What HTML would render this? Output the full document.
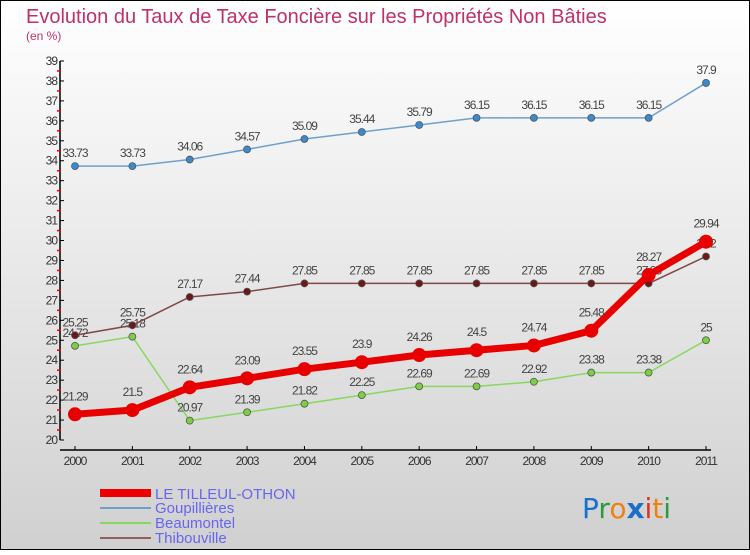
<!DOCTYPE html>
<html><head><meta charset="utf-8"><style>
body{margin:0;width:750px;height:550px;overflow:hidden;font-family:"Liberation Sans",sans-serif}
</style></head><body>
<svg id="c" width="750" height="550" xmlns="http://www.w3.org/2000/svg">
<defs><linearGradient id="bg" x1="0" y1="0" x2="0" y2="1"><stop offset="0" stop-color="#ffffff"/><stop offset="1" stop-color="#d0d0d0"/></linearGradient></defs>
<rect x="0.5" y="0.5" width="749" height="549" fill="url(#bg)" stroke="#000"/>
<text x="26" y="23" font-size="20" fill="#c0306a">Evolution du Taux de Taxe Foncière sur les Propriétés Non Bâties</text>
<text x="26" y="40" font-size="12" fill="#c0306a">(en %)</text>
<g id="axes"></g><g id="series"></g>
<g>
<rect x="100" y="489" width="51" height="8" fill="#e00"/>
<text x="155" y="499" font-size="15" fill="#6666ee">LE TILLEUL-OTHON</text>
<line x1="100" y1="508" x2="151" y2="508" stroke="#6fa0cc" stroke-width="2"/>
<text x="155" y="513" font-size="15" fill="#6666ee">Goupillières</text>
<line x1="100" y1="523" x2="151" y2="523" stroke="#88d860" stroke-width="2"/>
<text x="155" y="528" font-size="15" fill="#6666ee">Beaumontel</text>
<line x1="100" y1="538" x2="151" y2="538" stroke="#906060" stroke-width="2"/>
<text x="155" y="543" font-size="15" fill="#6666ee">Thibouville</text>
</g>
<text x="582" y="518" font-size="28" font-family="'DejaVu Sans',sans-serif"><tspan fill="#1a70c8">P</tspan><tspan fill="#2a9a40">r</tspan><tspan fill="#f08010">o</tspan><tspan fill="#1a70c8" font-weight="bold">x</tspan><tspan fill="#e03020">i</tspan><tspan fill="#f08010">t</tspan><tspan fill="#2a9a40">i</tspan></text>
</svg>
<script>
const years=["2000","2001","2002","2003","2004","2005","2006","2007","2008","2009","2010","2011"];
const tilleul=[21.29,21.5,22.64,23.09,23.55,23.9,24.26,24.5,24.74,25.48,28.27,29.94];
const goup=[33.73,33.73,34.06,34.57,35.09,35.44,35.79,36.15,36.15,36.15,36.15,37.9];
const beau=[24.72,25.18,20.97,21.39,21.82,22.25,22.69,22.69,22.92,23.38,23.38,25];
const thib=[25.25,25.75,27.17,27.44,27.85,27.85,27.85,27.85,27.85,27.85,27.85,29.2];
const yTicks=[20,21,22,23,24,25,26,27,28,29,30,31,32,33,34,35,36,37,38,39];
const NS="http://www.w3.org/2000/svg";
const yMin=20,yMax=39,yTop=61,yBot=440,x0=75,x1=706;
const X=i=>x0+i*(x1-x0)/(years.length-1);
const Y=v=>yBot-(v-yMin)*(yBot-yTop)/(yMax-yMin);
function mk(t,a,p){const e=document.createElementNS(NS,t);for(const k in a)e.setAttribute(k,a[k]);p.appendChild(e);return e;}
const ax=document.getElementById('axes');
let l=mk('line',{x1:60,y1:yTop,x2:60,y2:yBot,stroke:'#000','stroke-width':1.5},ax);


l=mk('line',{x1:60,y1:yBot+10,x2:x1+5,y2:yBot+10,stroke:'#000','stroke-width':1.5},ax);


yTicks.forEach(v=>{
  mk('line',{x1:60,y1:Y(v),x2:64,y2:Y(v),stroke:'#000'},ax);
  if(v<yMax)mk('line',{x1:57,y1:Y(v+0.5),x2:61,y2:Y(v+0.5),stroke:'#e00','stroke-width':1.5},ax);
  const t=mk('text',{x:57,y:Y(v)+4,'font-size':12,'text-anchor':'end',fill:'#333','letter-spacing':'-1'},ax);
  t.textContent=v;
  
  
});
years.forEach((y,i)=>{
  mk('line',{x1:X(i),y1:yBot+6,x2:X(i),y2:yBot+10,stroke:'#000'},ax);
  const t=mk('text',{x:X(i),y:yBot+25,'font-size':12,'text-anchor':'middle',fill:'#333','letter-spacing':'-1'},ax);
  t.textContent=y;
  
  
});
const sg=document.getElementById('series');
function series(d,name,color,w,r,dot){
  const g=mk('g',{},sg);
  
  
  mk('polyline',{points:d.map((v,i)=>X(i)+','+Y(v)).join(' '),fill:'none',stroke:color,'stroke-width':w,'stroke-linejoin':'round'},g);
  d.forEach((v,i)=>{
    const c=mk('circle',{cx:X(i),cy:Y(v),r:r,fill:dot,stroke:'#555','stroke-width':r>6?0:0.8},g);
    
    
    const t=mk('text',{x:X(i),y:Y(v)-(r>6?14:9),'font-size':12,'text-anchor':'middle',fill:'#444','letter-spacing':'-1'},g);
    t.textContent=v;
    
    
  });
}
series(goup,'goupillieres','#6fa0cc',1.5,3.5,'#3a8ad0');
series(beau,'beaumontel','#88d860',1.5,3.5,'#7ad040');
series(thib,'thibouville','#804848',1.5,3.5,'#6a1818');
series(tilleul,'le-tilleul-othon','#e80000',7,7,'#e80000');
</script>
</body></html>
